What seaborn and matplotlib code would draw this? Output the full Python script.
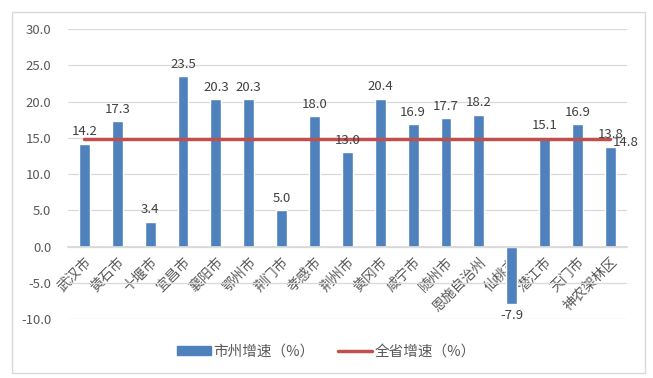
import matplotlib.pyplot as plt
import seaborn as sns
import pandas as pd
from matplotlib.patches import Rectangle
from matplotlib.lines import Line2D
from matplotlib.patches import Patch

# data
cities = ['武汉市', '黄石市', '十堰市', '宜昌市', '襄阳市', '鄂州市', '荆门市', '孝感市', '荆州市',
          '黄冈市', '咸宁市', '随州市', '恩施自治州', '仙桃市', '潜江市', '天门市', '神农架林区']
city_growth = [14.2, 17.3, 3.4, 23.5, 20.3, 20.3, 5.0, 18.0, 13.0,
               20.4, 16.9, 17.7, 18.2, -7.9, 15.1, 16.9, 13.8]
province_growth = 14.8

df = pd.DataFrame({'city': cities, 'growth': city_growth})

sns.set_theme(style="white")
plt.rcParams['font.family'] = ['Noto Sans CJK SC', 'DejaVu Sans']

txt = '#595959'
fig = plt.figure(figsize=(6.53, 3.78), dpi=100)
ax = fig.add_axes([0.104, 0.156, 0.856, 0.767])

# outer chart border
fig.patches.append(Rectangle((12 / 653, 5 / 378), 633 / 653, 361 / 378, transform=fig.transFigure,
                             fill=False, edgecolor='#D9D9D9', linewidth=1))

sns.barplot(data=df, x='city', y='growth', color='#4F81BD', width=0.33, saturation=1, ax=ax)
ax.bar_label(ax.containers[0], fmt='%.1f', padding=4, fontsize=9.5, color='#404040')

# province line
ax.plot(range(len(cities)), [province_growth] * len(cities), color='#C0504D', linewidth=2.5)
ax.annotate(f'{province_growth:.1f}', (len(cities) - 1, province_growth), xytext=(2, -2),
            textcoords='offset points', ha='left', va='center', fontsize=9.5, color='#404040')

ax.set_ylim(-10, 30)
ax.set_yticks(range(-10, 31, 5))
ax.set_yticklabels([f'{v:.1f}' for v in range(-10, 31, 5)], fontsize=9.5, color=txt)
ax.yaxis.grid(True, color='#D9D9D9', linewidth=0.9)
ax.set_axisbelow(True)
ax.set_xlim(-0.5, len(cities) - 0.5)
ax.set_xlabel('')
ax.set_ylabel('')
for s in ['top', 'right', 'left']:
    ax.spines[s].set_visible(False)
ax.spines['bottom'].set_position(('data', 0))
ax.spines['bottom'].set_color('#D9D9D9')
ax.tick_params(axis='both', length=0)
ax.tick_params(axis='y', pad=12)
ax.set_xticks(range(len(cities)))
ax.set_xticklabels(cities, rotation=45, ha='right', rotation_mode='anchor', fontsize=10, color=txt)
ax.tick_params(axis='x', pad=6)

handles = [Patch(color='#4F81BD'), Line2D([0], [0], color='#C0504D', linewidth=2.5)]
fig.legend(handles, ['市州增速（%）', '全省增速（%）'], loc='center', bbox_to_anchor=(0.5, 0.07),
           ncol=2, frameon=False, fontsize=10.5, labelcolor=txt, handlelength=2.3,
           handleheight=0.6, columnspacing=1.6, handletextpad=0.2)

fig.savefig('out.png', dpi=100)
